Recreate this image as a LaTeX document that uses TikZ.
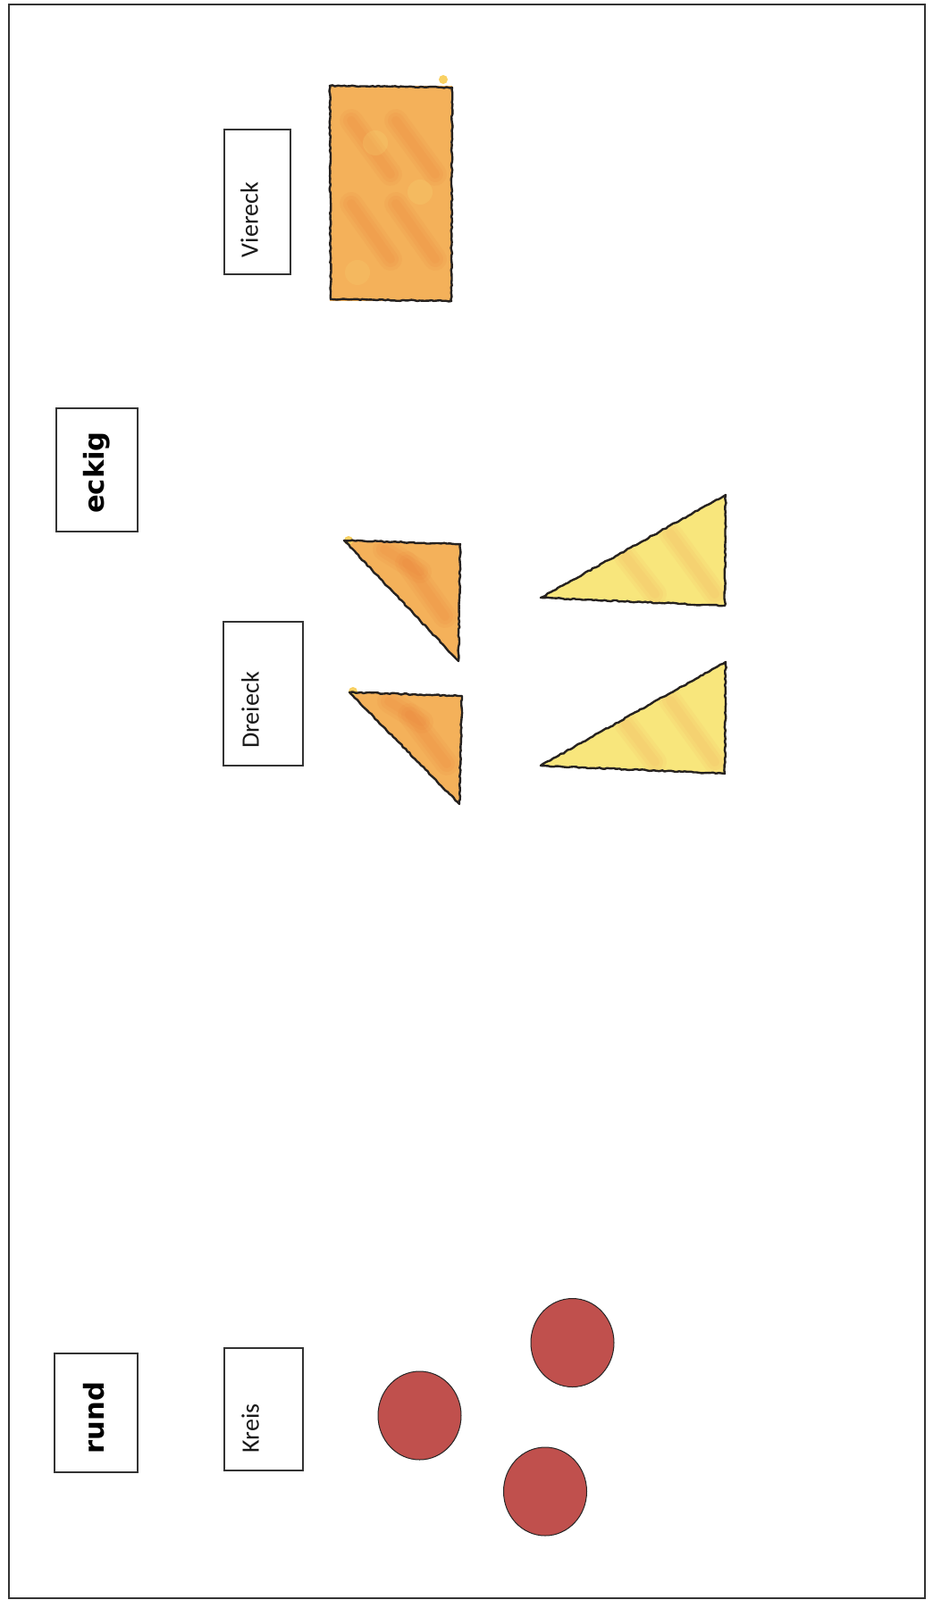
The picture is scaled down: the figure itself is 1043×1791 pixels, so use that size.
\documentclass[tikz,border=0pt]{standalone}
\usepackage{fontspec}
\newfontfamily\labelfont{Carlito}
\newfontfamily\headfont{DejaVu Sans}
\usetikzlibrary{decorations.pathmorphing}
\definecolor{orfill}{HTML}{F4B15A}
\definecolor{orstreak}{HTML}{EA7F38}
\definecolor{yefill}{HTML}{F8E67C}
\definecolor{yestreak}{HTML}{EFA85E}
\definecolor{redfill}{HTML}{C0504D}
\definecolor{inkdark}{HTML}{262220}
\newcommand\mysoftstreak[3]{%
  \draw[#1, line width=13pt, opacity=0.10, line cap=round] #2 -- #3;
  \draw[#1, line width=9pt, opacity=0.12, line cap=round] #2 -- #3;
  \draw[#1, line width=5pt, opacity=0.12, line cap=round] #2 -- #3;}
\begin{document}
\begin{tikzpicture}[x=0.5pt,y=-0.5pt,
  labelbox/.style={draw=black!80, line width=0.7pt, rectangle, inner sep=0pt},
  lbl/.style={rotate=90, inner sep=0pt, text=black!90, font=\labelfont\fontsize{14}{16}\selectfont},
  head/.style={rotate=90, inner sep=0pt, font=\headfont\bfseries\fontsize{15.3}{18}\selectfont},
  sketch/.style={draw=inkdark, line width=1.2pt, line join=round,
    decorate, decoration={random steps, segment length=1.6pt, amplitude=0.35pt}},
  dot/.style={fill=yefill!80!orange},
  redball/.style={fill=redfill, draw=black!85, line width=0.5pt}
]
\useasboundingbox (0,0) rectangle (1043,1791);
\fill[white] (0,0) rectangle (1043,1791);
% outer frame
\draw[line width=0.8pt, draw=black!80] (10,5) rectangle (1035,1789);

% label boxes
\node[labelbox, minimum width=37pt, minimum height=81pt] (vbox) at (288,226) {};
\node[labelbox, minimum width=44.5pt, minimum height=80.5pt] (dbox) at (294.5,776.5) {};
\node[labelbox, minimum width=44pt, minimum height=68.5pt] (kbox) at (295,1577.5) {};
\node[labelbox, minimum width=45.5pt, minimum height=69pt] (ebox) at (108.5,526) {};
\node[labelbox, minimum width=46.5pt, minimum height=66.5pt] (rbox) at (107.5,1581.5) {};

% label texts
\node[lbl] (vtext) at (279,246) {Viereck};
\node[lbl] (dtext) at (280,795) {Dreieck};
\node[lbl] (ktext) at (280,1599) {Kreis};
\node[head] (etext) at (108,529) {eckig};
\node[head] (rtext) at (105,1587) {rund};

% orange rectangle (Viereck)
\begin{scope}
  \clip (369,96) rectangle (506,337);
  \fill[orfill] (369,96) rectangle (506,337);
  \mysoftstreak{orstreak}{(393,135)}{(437,195)}
  \mysoftstreak{orstreak}{(393,228)}{(437,290)}
  \mysoftstreak{orstreak}{(443,135)}{(487,195)}
  \mysoftstreak{orstreak}{(443,228)}{(487,290)}
  \fill[yefill, opacity=0.18] (420,160) circle (7pt);
  \fill[yefill, opacity=0.18] (470,215) circle (7pt);
  \fill[yefill, opacity=0.15] (400,305) circle (7pt);
\end{scope}
\fill[dot] (496,89) circle (2.5pt);
\draw[sketch] (369,96) -- (506,98) -- (505,337) -- (370,335) -- cycle;

% orange triangles
\begin{scope}
  \clip (385,605) -- (515,609) -- (513,740) -- cycle;
  \fill[orfill] (385,605) -- (515,609) -- (513,740) -- cycle;
  \mysoftstreak{orstreak}{(455,630)}{(498,690)}
  \mysoftstreak{orstreak}{(430,615)}{(470,640)}
\end{scope}
\fill[dot] (390,605) circle (2.5pt);
\draw[sketch] (385,605) -- (515,609) -- (513,740) -- cycle;

\begin{scope}
  \clip (391,775) -- (517,779) -- (514,900) -- cycle;
  \fill[orfill] (391,775) -- (517,779) -- (514,900) -- cycle;
  \mysoftstreak{orstreak}{(458,800)}{(500,855)}
  \mysoftstreak{orstreak}{(435,785)}{(472,808)}
\end{scope}
\fill[dot] (395,774) circle (2.5pt);
\draw[sketch] (391,775) -- (517,779) -- (514,900) -- cycle;

% yellow triangles
\begin{scope}
  \clip (605,669) -- (812,554) -- (811,678) -- cycle;
  \fill[yefill] (605,669) -- (812,554) -- (811,678) -- cycle;
  \mysoftstreak{yestreak}{(700,623)}{(733,665)}
  \mysoftstreak{yestreak}{(750,597)}{(800,665)}
\end{scope}
\draw[sketch] (605,669) -- (812,554) -- (811,678) -- cycle;

\begin{scope}
  \clip (605,857) -- (812,741) -- (811,866) -- cycle;
  \fill[yefill] (605,857) -- (812,741) -- (811,866) -- cycle;
  \mysoftstreak{yestreak}{(700,810)}{(733,853)}
  \mysoftstreak{yestreak}{(750,784)}{(800,853)}
\end{scope}
\draw[sketch] (605,857) -- (812,741) -- (811,866) -- cycle;

% red circles
\draw[redball] (469.5,1584.5) ellipse [x radius=23.25pt, y radius=24.75pt];
\draw[redball] (640.5,1503) ellipse [x radius=23.25pt, y radius=24.75pt];
\draw[redball] (610,1669.5) ellipse [x radius=23.25pt, y radius=24.75pt];
\end{tikzpicture}
\end{document}
